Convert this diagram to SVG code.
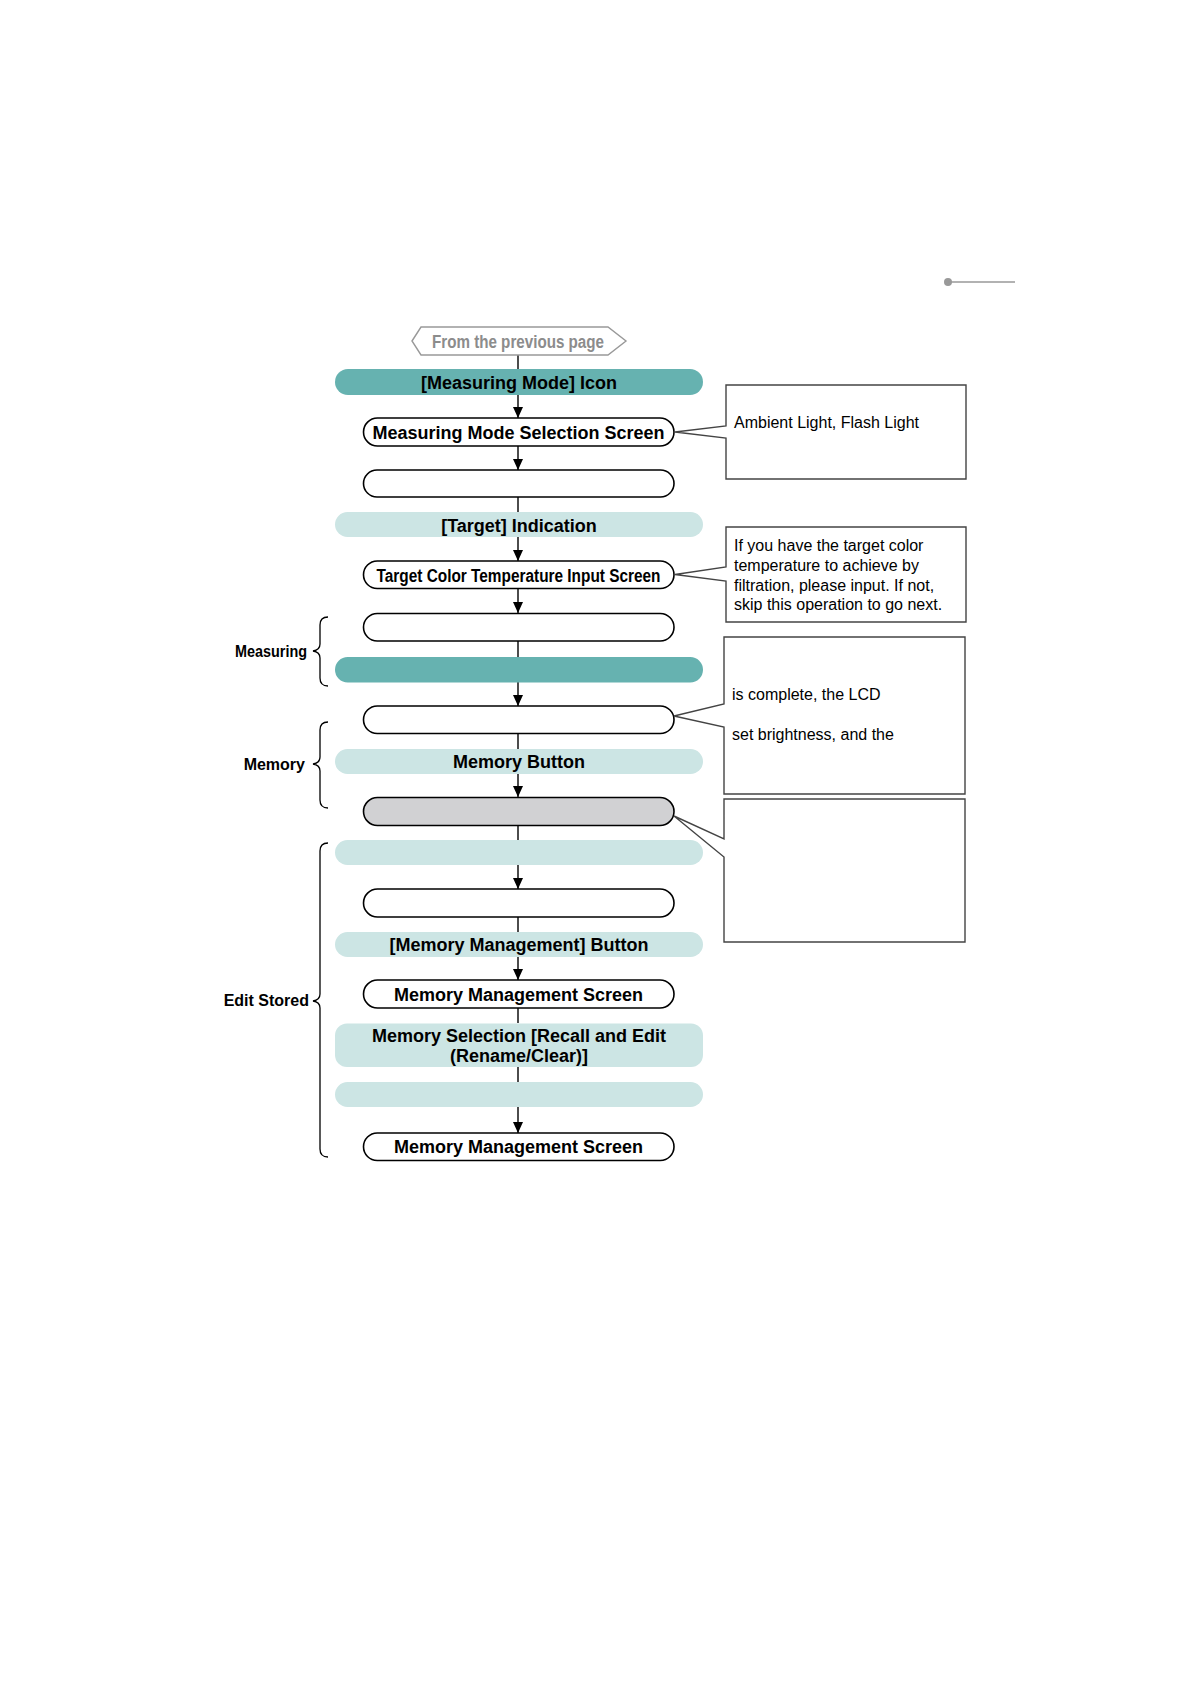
<svg xmlns="http://www.w3.org/2000/svg" width="1191" height="1684" viewBox="0 0 1191 1684">
<defs>
<marker id="arr" viewBox="0 0 11 10" refX="11" refY="5" markerWidth="11" markerHeight="10" markerUnits="userSpaceOnUse" orient="auto">
<path d="M0,0 L11,5 L0,10 Z" fill="#000"/>
</marker>
<style>
.t{font-family:"Liberation Sans",Arial,sans-serif;font-weight:bold;font-size:18px;fill:#000;text-anchor:middle}
.c{font-family:"Liberation Sans",Arial,sans-serif;font-size:16px;fill:#000}
.lb{font-family:"Liberation Sans",Arial,sans-serif;font-weight:bold;font-size:16px;fill:#000;text-anchor:end}
.dark{fill:#66b2b0}
.light{fill:#cce5e4}
.box{fill:#fff;stroke:#000;stroke-width:1.6}
.gray{fill:#d1d1d3;stroke:#000;stroke-width:1.6}
.co{fill:#fff;stroke:#444;stroke-width:1.4}
.ln{stroke:#000;stroke-width:1.4;fill:none}
.br{stroke:#000;stroke-width:1.3;fill:none}
</style>
</defs>
<rect width="1191" height="1684" fill="#fff"/>
<g id="deco">
<circle cx="948" cy="282" r="4" fill="#999"/>
<line x1="948" y1="282" x2="1015" y2="282" stroke="#999" stroke-width="1.4"/>
</g>
<g id="connectors">
<line class="ln" x1="518" y1="355" x2="518" y2="369"/>
<line class="ln" x1="518" y1="395" x2="518" y2="418" marker-end="url(#arr)"/>
<line class="ln" x1="518" y1="446" x2="518" y2="470" marker-end="url(#arr)"/>
<line class="ln" x1="518" y1="497" x2="518" y2="512"/>
<line class="ln" x1="518" y1="537" x2="518" y2="561" marker-end="url(#arr)"/>
<line class="ln" x1="518" y1="588" x2="518" y2="613" marker-end="url(#arr)"/>
<line class="ln" x1="518" y1="641" x2="518" y2="657"/>
<line class="ln" x1="518" y1="682" x2="518" y2="706" marker-end="url(#arr)"/>
<line class="ln" x1="518" y1="733" x2="518" y2="749"/>
<line class="ln" x1="518" y1="774" x2="518" y2="797" marker-end="url(#arr)"/>
<line class="ln" x1="518" y1="825" x2="518" y2="840"/>
<line class="ln" x1="518" y1="865" x2="518" y2="889" marker-end="url(#arr)"/>
<line class="ln" x1="518" y1="917" x2="518" y2="932"/>
<line class="ln" x1="518" y1="957" x2="518" y2="980" marker-end="url(#arr)"/>
<line class="ln" x1="518" y1="1008" x2="518" y2="1023"/>
<line class="ln" x1="518" y1="1067" x2="518" y2="1082"/>
<line class="ln" x1="518" y1="1107" x2="518" y2="1133" marker-end="url(#arr)"/>
</g>
<g id="n0">
<path d="M412,341 L421,327 H608 L626,341 L608,355 H421 Z" fill="#fff" stroke="#999" stroke-width="1.4"/>
<text x="518" y="348" class="t" style="fill:#8c8c8c;font-size:18px" textLength="172" lengthAdjust="spacingAndGlyphs">From the previous page</text>
</g>
<g id="n1"><rect class="dark" x="335" y="369" width="368" height="26" rx="13"/><text x="519" y="388.5" class="t">[Measuring Mode] Icon</text></g>
<g id="n2"><rect class="box" x="363.5" y="418" width="310.5" height="28" rx="14"/><text x="518.5" y="438.5" class="t">Measuring Mode Selection Screen</text></g>
<g id="n3"><rect class="box" x="363.5" y="470" width="310.5" height="27" rx="13.5"/></g>
<g id="n4"><rect class="light" x="335" y="512" width="368" height="25" rx="12.5"/><text x="519" y="531.5" class="t">[Target] Indication</text></g>
<g id="n5"><rect class="box" x="363.5" y="561" width="310.5" height="27.5" rx="13.75"/><text x="518.5" y="581.5" class="t" textLength="284" lengthAdjust="spacingAndGlyphs">Target Color Temperature Input Screen</text></g>
<g id="n6"><rect class="box" x="363.5" y="613.5" width="310.5" height="27.5" rx="13.75"/></g>
<g id="n7"><rect class="dark" x="335" y="657" width="368" height="25.5" rx="12.75"/></g>
<g id="n8"><rect class="box" x="363.5" y="706" width="310.5" height="27.5" rx="13.75"/></g>
<g id="n9"><rect class="light" x="335" y="749" width="368" height="25" rx="12.5"/><text x="519" y="768" class="t">Memory Button</text></g>
<g id="n10"><rect class="gray" x="363.5" y="797.5" width="310.5" height="28" rx="14"/></g>
<g id="n11"><rect class="light" x="335" y="840" width="368" height="25" rx="12.5"/></g>
<g id="n12"><rect class="box" x="363.5" y="889" width="310.5" height="28" rx="14"/></g>
<g id="n13"><rect class="light" x="335" y="932" width="368" height="25" rx="12.5"/><text x="519" y="950.5" class="t">[Memory Management] Button</text></g>
<g id="n14"><rect class="box" x="363.5" y="980" width="310.5" height="28" rx="14"/><text x="518.5" y="1000.5" class="t">Memory Management Screen</text></g>
<g id="n15"><rect class="light" x="335" y="1023.5" width="368" height="43.5" rx="12"/><text x="519" y="1042" class="t">Memory Selection [Recall and Edit</text><text x="519" y="1062" class="t">(Rename/Clear)]</text></g>
<g id="n16"><rect class="light" x="335" y="1082" width="368" height="25" rx="12.5"/></g>
<g id="n17"><rect class="box" x="363.5" y="1133" width="310.5" height="27.5" rx="13.75"/><text x="518.5" y="1153" class="t">Memory Management Screen</text></g>
<g id="callout1">
<path class="co" d="M726,385 H966 V479 H726 V438 L675,432 L726,426 Z"/>
<text x="734" y="428" class="c">Ambient Light, Flash Light</text>
</g>
<g id="callout2">
<path class="co" d="M726,527 H966 V622 H726 V581 L675,574.5 L726,567 Z"/>
<text x="734" y="550.5" class="c">If you have the target color</text>
<text x="734" y="570.5" class="c">temperature to achieve by</text>
<text x="734" y="590.5" class="c">filtration, please input. If not,</text>
<text x="734" y="610" class="c">skip this operation to go next.</text>
</g>
<g id="callout3">
<path class="co" d="M724,637 H965 V794 H724 V727 L674,716 L724,704 Z"/>
<text x="732" y="699.5" class="c">is complete, the LCD</text>
<text x="732" y="739.5" class="c">set brightness, and the</text>
</g>
<g id="callout4">
<path class="co" d="M724,799 H965 V942 H724 V857 L674,816 L724,839 Z"/>
</g>
<g id="brace-measuring">
<path class="br" d="M328,617 Q320,617 320,625 L320,644 Q320,650 313,651 Q320,652 320,658 L320,678 Q320,686 328,686"/>
<text x="307" y="656.5" class="lb" textLength="72" lengthAdjust="spacingAndGlyphs">Measuring</text>
</g>
<g id="brace-memory">
<path class="br" d="M328,722 Q320,722 320,730 L320,757 Q320,763 313,764 Q320,765 320,771 L320,800 Q320,808 328,808"/>
<text x="305" y="770" class="lb">Memory</text>
</g>
<g id="brace-edit">
<path class="br" d="M328,843 Q320,843 320,851 L320,994 Q320,1000 313,1001 Q320,1002 320,1008 L320,1149 Q320,1157 328,1157"/>
<text x="309" y="1006" class="lb">Edit Stored</text>
</g>
</svg>
